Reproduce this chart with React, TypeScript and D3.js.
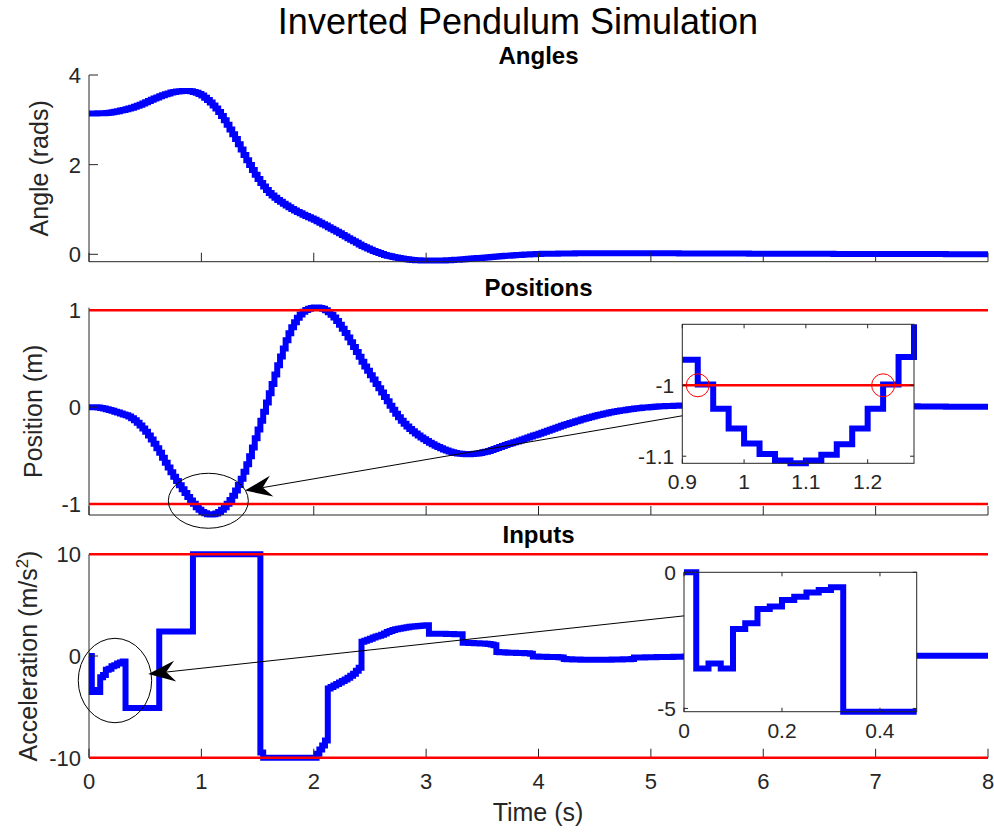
import React from "react";
import * as d3 from "d3";

// Zero-order-hold samples of the closed-loop simulation (dt = 0.025 s, 0..8 s)
const SAMPLE_PERIOD = 0.025;

// Pendulum angle (rad)
const angle = [
  3.142, 3.142, 3.143, 3.144, 3.145, 3.148, 3.153, 3.16, 3.17, 3.181, 3.193, 3.206, 3.22, 3.236, 3.252, 3.27, 3.29, 3.313, 3.338, 3.363,
  3.39, 3.418, 3.446, 3.474, 3.5, 3.524, 3.548, 3.57, 3.59, 3.607, 3.622, 3.633, 3.64, 3.644, 3.645, 3.642, 3.635, 3.622, 3.604, 3.578,
  3.54, 3.494, 3.442, 3.384, 3.32, 3.25, 3.173, 3.087, 2.99, 2.89, 2.785, 2.677, 2.57, 2.455, 2.337, 2.218, 2.1, 1.99, 1.88, 1.775,
  1.68, 1.59, 1.51, 1.437, 1.37, 1.312, 1.26, 1.213, 1.17, 1.128, 1.088, 1.048, 1.01, 0.977, 0.945, 0.914, 0.885, 0.857, 0.828, 0.799,
  0.77, 0.738, 0.706, 0.673, 0.64, 0.606, 0.572, 0.539, 0.505, 0.469, 0.433, 0.396, 0.36, 0.325, 0.29, 0.255, 0.22, 0.188, 0.157, 0.128,
  0.1, 0.074, 0.05, 0.027, 0.005, -0.014, -0.031, -0.046, -0.06, -0.073, -0.085, -0.096, -0.105, -0.113, -0.119, -0.125, -0.13, -0.134, -0.137, -0.139,
  -0.14, -0.141, -0.141, -0.141, -0.14, -0.139, -0.137, -0.134, -0.13, -0.127, -0.123, -0.119, -0.115, -0.11, -0.105, -0.1, -0.095, -0.09, -0.085, -0.08,
  -0.075, -0.07, -0.065, -0.06, -0.055, -0.05, -0.045, -0.04, -0.035, -0.031, -0.027, -0.022, -0.018, -0.014, -0.011, -0.007, -0.004, -0.001, 0.002, 0.005,
  0.008, 0.01, 0.011, 0.012, 0.013, 0.014, 0.015, 0.016, 0.017, 0.018, 0.019, 0.02, 0.02, 0.021, 0.021, 0.022, 0.022, 0.022, 0.023, 0.023,
  0.023, 0.023, 0.023, 0.023, 0.023, 0.023, 0.023, 0.023, 0.023, 0.023, 0.022, 0.022, 0.022, 0.022, 0.022, 0.022, 0.022, 0.022, 0.022, 0.022,
  0.022, 0.022, 0.022, 0.022, 0.022, 0.021, 0.021, 0.021, 0.021, 0.021, 0.02, 0.02, 0.02, 0.02, 0.02, 0.019, 0.019, 0.019, 0.019, 0.019,
  0.018, 0.018, 0.018, 0.018, 0.018, 0.017, 0.017, 0.017, 0.017, 0.017, 0.016, 0.016, 0.016, 0.016, 0.016, 0.015, 0.015, 0.015, 0.015, 0.015,
  0.014, 0.014, 0.014, 0.014, 0.014, 0.013, 0.013, 0.013, 0.013, 0.013, 0.012, 0.012, 0.012, 0.012, 0.012, 0.011, 0.011, 0.011, 0.011, 0.011,
  0.01, 0.01, 0.01, 0.01, 0.01, 0.009, 0.009, 0.009, 0.009, 0.009, 0.008, 0.008, 0.008, 0.008, 0.008, 0.007, 0.007, 0.007, 0.007, 0.007,
  0.006, 0.006, 0.006, 0.006, 0.006, 0.005, 0.005, 0.005, 0.005, 0.005, 0.005, 0.005, 0.005, 0.005, 0.005, 0.004, 0.004, 0.004, 0.004, 0.004,
  0.004, 0.004, 0.004, 0.004, 0.004, 0.003, 0.003, 0.003, 0.003, 0.003, 0.003, 0.003, 0.003, 0.003, 0.003, 0.002, 0.002, 0.002, 0.002, 0.002,
  0.002,
];

// Cart position (m)
const position = [
  0, 0, -0.001, -0.004, -0.009, -0.015, -0.022, -0.03, -0.038, -0.047, -0.056, -0.065, -0.075, -0.085, -0.097, -0.114, -0.136, -0.16, -0.189, -0.22,
  -0.254, -0.292, -0.333, -0.377, -0.424, -0.472, -0.524, -0.575, -0.624, -0.672, -0.718, -0.763, -0.806, -0.848, -0.888, -0.927, -0.964, -0.999, -1.033, -1.061,
  -1.082, -1.097, -1.106, -1.11, -1.106, -1.098, -1.083, -1.061, -1.033, -0.999, -0.96, -0.914, -0.862, -0.804, -0.739, -0.668, -0.591, -0.508, -0.418, -0.322,
  -0.232, -0.14, -0.048, 0.047, 0.143, 0.24, 0.337, 0.432, 0.522, 0.605, 0.69, 0.762, 0.825, 0.878, 0.922, 0.957, 0.984, 1.004, 1.017, 1.025,
  1.028, 1.028, 1.024, 1.015, 1.0, 0.98, 0.955, 0.925, 0.89, 0.85, 0.81, 0.765, 0.72, 0.67, 0.62, 0.57, 0.52, 0.47, 0.42, 0.375,
  0.33, 0.285, 0.24, 0.195, 0.15, 0.105, 0.06, 0.015, -0.028, -0.068, -0.105, -0.14, -0.172, -0.2, -0.226, -0.25, -0.272, -0.293, -0.313, -0.332,
  -0.35, -0.367, -0.383, -0.398, -0.412, -0.425, -0.437, -0.448, -0.458, -0.466, -0.473, -0.478, -0.482, -0.485, -0.486, -0.486, -0.485, -0.482, -0.478, -0.473,
  -0.467, -0.46, -0.452, -0.443, -0.433, -0.423, -0.412, -0.401, -0.39, -0.381, -0.372, -0.363, -0.354, -0.344, -0.334, -0.324, -0.314, -0.304, -0.294, -0.284,
  -0.275, -0.264, -0.254, -0.243, -0.233, -0.223, -0.213, -0.203, -0.193, -0.183, -0.174, -0.164, -0.155, -0.146, -0.137, -0.128, -0.12, -0.112, -0.104, -0.096,
  -0.088, -0.081, -0.075, -0.068, -0.062, -0.056, -0.051, -0.045, -0.04, -0.035, -0.031, -0.026, -0.022, -0.018, -0.015, -0.011, -0.008, -0.005, -0.003, 0,
  0.002, 0.004, 0.006, 0.008, 0.01, 0.011, 0.012, 0.013, 0.014, 0.015, 0.016, 0.017, 0.018, 0.018, 0.019, 0.019, 0.02, 0.02, 0.02, 0.02,
  0.02, 0.02, 0.02, 0.02, 0.02, 0.02, 0.02, 0.02, 0.02, 0.02, 0.019, 0.019, 0.019, 0.019, 0.019, 0.019, 0.019, 0.019, 0.019, 0.019,
  0.018, 0.018, 0.018, 0.018, 0.018, 0.017, 0.017, 0.017, 0.017, 0.017, 0.016, 0.016, 0.016, 0.016, 0.016, 0.015, 0.015, 0.015, 0.015, 0.015,
  0.014, 0.014, 0.014, 0.014, 0.014, 0.013, 0.013, 0.013, 0.013, 0.013, 0.012, 0.012, 0.012, 0.012, 0.012, 0.011, 0.011, 0.011, 0.011, 0.011,
  0.01, 0.01, 0.01, 0.01, 0.01, 0.009, 0.009, 0.009, 0.009, 0.009, 0.008, 0.008, 0.008, 0.008, 0.008, 0.007, 0.007, 0.007, 0.007, 0.007,
  0.006, 0.006, 0.006, 0.006, 0.006, 0.005, 0.005, 0.005, 0.005, 0.005, 0.004, 0.004, 0.004, 0.004, 0.004, 0.003, 0.003, 0.003, 0.003, 0.003,
  0.003,
];

// Commanded cart acceleration (m/s^2)
const input = [
  0, -3.53, -3.35, -3.53, -2.08, -1.875, -1.35, -1.26, -1.02, -0.9, -0.74, -0.65, -0.55, -5.12, -5.12, -5.12, -5.12, -5.12, -5.12, -5.12,
  -5.12, -5.12, -5.12, -5.12, -5.12, 2.4, 2.4, 2.4, 2.4, 2.4, 2.4, 2.4, 2.4, 2.4, 2.4, 2.4, 2.4, 10, 10, 10,
  10, 10, 10, 10, 10, 10, 10, 10, 10, 10, 10, 10, 10, 10, 10, 10, 10, 10, 10, 10,
  10, -9.5, -10, -10, -10, -10, -10, -10, -10, -10, -10, -10, -10, -10, -10, -10, -10, -10, -10, -10,
  -10, -9.6, -9.2, -8.8, -8.3, -3.2, -3.05, -2.9, -2.75, -2.6, -2.45, -2.3, -2.15, -1.95, -1.75, -1.45, -1.15, 1.4, 1.5, 1.6,
  1.7, 1.82, 1.92, 2.0, 2.1, 2.22, 2.35, 2.46, 2.55, 2.62, 2.68, 2.73, 2.78, 2.83, 2.87, 2.9, 2.93, 2.96, 2.98, 3.0,
  3.02, 2.2, 2.2, 2.19, 2.19, 2.18, 2.18, 2.17, 2.16, 2.16, 2.15, 2.15, 2.14, 1.3, 1.3, 1.28, 1.27, 1.26, 1.25, 1.24,
  1.22, 1.2, 1.17, 1.12, 1.05, 0.4, 0.38, 0.36, 0.34, 0.33, 0.32, 0.31, 0.3, 0.3, 0.29, 0.28, 0.27, 0.22, -0.05, -0.06,
  -0.07, -0.08, -0.08, -0.09, -0.1, -0.1, -0.11, -0.12, -0.14, -0.3, -0.32, -0.33, -0.34, -0.35, -0.35, -0.36, -0.36, -0.36, -0.37, -0.37,
  -0.37, -0.37, -0.37, -0.36, -0.36, -0.36, -0.35, -0.35, -0.34, -0.34, -0.33, -0.33, -0.32, -0.3, -0.15, -0.15, -0.14, -0.14, -0.13, -0.13,
  -0.12, -0.12, -0.11, -0.11, -0.1, -0.1, -0.09, -0.09, -0.08, -0.08, -0.07, -0.07, -0.06, -0.06, -0.05, -0.05, -0.04, -0.04, -0.03, -0.03,
  -0.02, -0.02, -0.02, -0.02, -0.02, -0.01, -0.01, -0.01, -0.01, -0.01, 0, 0, 0, 0, 0, 0.01, 0.01, 0.01, 0.01, 0.01,
  0.01, 0.01, 0.01, 0.01, 0.01, 0.02, 0.02, 0.02, 0.02, 0.02, 0.02, 0.02, 0.02, 0.02, 0.02, 0.02, 0.02, 0.02, 0.02, 0.02,
  0.03, 0.03, 0.03, 0.03, 0.03, 0.03, 0.03, 0.03, 0.03, 0.03, 0.03, 0.03, 0.03, 0.03, 0.03, 0.03, 0.03, 0.03, 0.03, 0.03,
  0.03, 0.03, 0.03, 0.03, 0.03, 0.03, 0.03, 0.03, 0.03, 0.03, 0.03, 0.03, 0.03, 0.03, 0.03, 0.03, 0.03, 0.03, 0.03, 0.03,
  0.03, 0.03, 0.03, 0.03, 0.03, 0.03, 0.03, 0.03, 0.03, 0.03, 0.03, 0.03, 0.03, 0.03, 0.03, 0.03, 0.03, 0.03, 0.03, 0.03,
  0.03,
];

const TIME_TICKS = [0, 1, 2, 3, 4, 5, 6, 7, 8];
const ANGLE_TICKS = [0, 2, 4];
const POSITION_TICKS = [-1, 0, 1];
const INPUT_TICKS = [-10, 0, 10];

// Track and actuator limits
const POSITION_LIMITS = [-1, 1];
const INPUT_LIMITS = [-10, 10];

// Zoomed views
const POS_ZOOM_SPAN = [0.9, 1.275];
const POS_ZOOM_XTICKS = [0.9, 1, 1.1, 1.2];
const POS_ZOOM_YTICKS = [-1.1, -1];
const POS_LIMIT_CROSSINGS = [0.925, 1.225];
const INPUT_ZOOM_SPAN = [0, 0.475];
const INPUT_ZOOM_XTICKS = [0, 0.2, 0.4];
const INPUT_ZOOM_YTICKS = [-5, 0];

const time = angle.map((_, i) => +(i * SAMPLE_PERIOD).toFixed(3));

const FONT = '"Liberation Sans", Arial, Helvetica, sans-serif';
const AXIS = "#262626";
const BLUE = "#0000ff";
const RED = "#ff0000";

const W = 994;
const H = 832;
const x = d3.scaleLinear().domain([0, 8]).range([89, 988]);
const TICK = 9;

type PanelSpec = {
  key: string;
  values: number[];
  y: d3.ScaleLinear<number, number>;
  ticks: number[];
  limits: number[];
  title: string;
  titleY: number;
  labelX: number;
  label: React.ReactNode;
  showTimeLabels: boolean;
};

const yAngle = d3.scaleLinear().domain([-0.165, 4]).range([261.7, 75]);
const yPos = d3.scaleLinear().domain([-1.114, 1.027]).range([515, 307.7]);
const yIn = d3.scaleLinear().domain([-10, 10]).range([757.7, 554.3]);

const stairs = (xs: (v: number) => number, ys: (v: number) => number, t: number[], v: number[]) =>
  d3
    .line<number>()
    .x((_, i) => xs(t[i]))
    .y((d) => ys(d))
    .curve(d3.curveStepAfter)(v) || "";

const fmt = (v: number) => String(+v.toFixed(3));

function Panel({ p }: { p: PanelSpec }) {
  const [y0, y1] = p.y.range();
  const [x0, x1] = x.range();
  return (
    <g>
      <text x={538.5} y={p.titleY} textAnchor="middle" fontWeight="bold" fontSize={24} fill="#000">
        {p.title}
      </text>
      <path d={stairs(x, p.y, time, p.values)} fill="none" stroke={BLUE} strokeWidth={6} strokeLinejoin="miter" />
      {/* axes */}
      <line x1={x0} x2={x0} y1={y1} y2={y0} stroke={AXIS} strokeWidth={1} />
      <line x1={x0} x2={x1} y1={y0} y2={y0} stroke={AXIS} strokeWidth={1} />
      {TIME_TICKS.map((t) => (
        <g key={t}>
          <line x1={x(t)} x2={x(t)} y1={y0} y2={y0 - TICK} stroke={AXIS} strokeWidth={1} />
          {p.showTimeLabels && (
            <text x={x(t)} y={y0 + 31.6} textAnchor="middle" fontSize={22} fill={AXIS}>
              {t}
            </text>
          )}
        </g>
      ))}
      {p.ticks.map((v) => (
        <g key={v}>
          <line x1={x0} x2={x0 + TICK} y1={p.y(v)} y2={p.y(v)} stroke={AXIS} strokeWidth={1} />
          <text x={x0 - 8} y={p.y(v) + 8} textAnchor="end" fontSize={22} fill={AXIS}>
            {fmt(v)}
          </text>
        </g>
      ))}
      {p.limits.map((v) => (
        <line key={v} x1={x0} x2={x1} y1={p.y(v)} y2={p.y(v)} stroke={RED} strokeWidth={2.6} />
      ))}
      <text
        transform={`translate(${p.labelX},${(y0 + y1) / 2}) rotate(-90)`}
        textAnchor="middle"
        fontSize={25}
        fill={AXIS}
      >
        {p.label}
      </text>
    </g>
  );
}

type InsetSpec = {
  t: number[];
  v: number[];
  xs: d3.ScaleLinear<number, number>;
  ys: d3.ScaleLinear<number, number>;
  xticks: number[];
  yticks: number[];
};

function Inset({ s, children }: { s: InsetSpec; children?: React.ReactNode }) {
  const [l, r] = s.xs.range();
  const [b, tp] = s.ys.range();
  const IT = 4;
  return (
    <g>
      <rect x={l} y={tp} width={r - l} height={b - tp} fill="#fff" />
      <path d={stairs(s.xs, s.ys, s.t, s.v)} fill="none" stroke={BLUE} strokeWidth={6} strokeLinejoin="miter" />
      {children}
      <rect x={l} y={tp} width={r - l} height={b - tp} fill="none" stroke={AXIS} strokeWidth={1} />
      {s.xticks.map((t) => (
        <g key={t}>
          <line x1={s.xs(t)} x2={s.xs(t)} y1={b} y2={b - IT} stroke={AXIS} />
          <line x1={s.xs(t)} x2={s.xs(t)} y1={tp} y2={tp + IT} stroke={AXIS} />
          <text x={s.xs(t)} y={b + 26} textAnchor="middle" fontSize={21} fill={AXIS}>
            {fmt(t)}
          </text>
        </g>
      ))}
      {s.yticks.map((v) => (
        <g key={v}>
          <line x1={l} x2={l + IT} y1={s.ys(v)} y2={s.ys(v)} stroke={AXIS} />
          <line x1={r} x2={r - IT} y1={s.ys(v)} y2={s.ys(v)} stroke={AXIS} />
          <text x={l - 8} y={s.ys(v) + 8} textAnchor="end" fontSize={21} fill={AXIS}>
            {fmt(v)}
          </text>
        </g>
      ))}
    </g>
  );
}

function subset(span: number[], values: number[]) {
  const i0 = Math.round(span[0] / SAMPLE_PERIOD);
  const i1 = Math.round(span[1] / SAMPLE_PERIOD);
  return { t: time.slice(i0, i1 + 1), v: values.slice(i0, i1 + 1) };
}

function Arrow({ from, tip }: { from: [number, number]; tip: [number, number] }) {
  const a = Math.atan2(from[1] - tip[1], from[0] - tip[0]);
  const c = Math.cos(a);
  const sn = Math.sin(a);
  const L = 27;
  const hw = 10.5;
  const notch = 18;
  const pt = (u: number, v: number) => [tip[0] + u * c - v * sn, tip[1] + u * sn + v * c];
  const p1 = pt(L, -hw);
  const p2 = pt(notch, 0);
  const p3 = pt(L, hw);
  return (
    <g>
      <line x1={from[0]} y1={from[1]} x2={p2[0]} y2={p2[1]} stroke="#000" strokeWidth={1} />
      <path d={`M${tip[0]},${tip[1]}L${p1[0]},${p1[1]}L${p2[0]},${p2[1]}L${p3[0]},${p3[1]}Z`} fill="#000" />
    </g>
  );
}

export default function App() {
  const panels: PanelSpec[] = [
    {
      key: "angle",
      values: angle,
      y: yAngle,
      ticks: ANGLE_TICKS,
      limits: [],
      title: "Angles",
      titleY: 64,
      labelX: 48,
      label: "Angle (rads)",
      showTimeLabels: false,
    },
    {
      key: "position",
      values: position,
      y: yPos,
      ticks: POSITION_TICKS,
      limits: POSITION_LIMITS,
      title: "Positions",
      titleY: 296,
      labelX: 42,
      label: "Position (m)",
      showTimeLabels: false,
    },
    {
      key: "input",
      values: input,
      y: yIn,
      ticks: INPUT_TICKS,
      limits: INPUT_LIMITS,
      title: "Inputs",
      titleY: 542.5,
      labelX: 37,
      label: (
        <>
          Acceleration (m/s
          <tspan dy={-9} fontSize={17}>
            2
          </tspan>
          <tspan dy={9}>)</tspan>
        </>
      ),
      showTimeLabels: true,
    },
  ];

  const posZoom = subset(POS_ZOOM_SPAN, position);
  const posInset: InsetSpec = {
    ...posZoom,
    xs: d3.scaleLinear().domain(POS_ZOOM_SPAN).range([682.3, 914]),
    ys: d3
      .scaleLinear()
      .domain(d3.extent(posZoom.v) as [number, number])
      .range([463.3, 324.3]),
    xticks: POS_ZOOM_XTICKS,
    yticks: POS_ZOOM_YTICKS,
  };

  const inZoom = subset(INPUT_ZOOM_SPAN, input);
  const inInset: InsetSpec = {
    ...inZoom,
    xs: d3.scaleLinear().domain(INPUT_ZOOM_SPAN).range([684, 916.7]),
    ys: d3
      .scaleLinear()
      .domain(d3.extent(inZoom.v) as [number, number])
      .range([711.7, 572.3]),
    xticks: INPUT_ZOOM_XTICKS,
    yticks: INPUT_ZOOM_YTICKS,
  };

  const lowerLimit = POSITION_LIMITS[0];

  return (
    <svg
      width={W}
      height={H}
      viewBox={`0 0 ${W} ${H}`}
      style={{ position: "absolute", left: 0, top: 0, background: "#fff" }}
      fontFamily={FONT}
    >
      <rect width={W} height={H} fill="#fff" />
      <text x={518} y={33.5} textAnchor="middle" fontSize={36} fill="#000">
        Inverted Pendulum Simulation
      </text>
      {panels.map((p) => (
        <Panel key={p.key} p={p} />
      ))}

      <Inset s={posInset}>
        <line
          x1={posInset.xs.range()[0]}
          x2={posInset.xs.range()[1]}
          y1={posInset.ys(lowerLimit)}
          y2={posInset.ys(lowerLimit)}
          stroke={RED}
          strokeWidth={2.6}
        />
        {POS_LIMIT_CROSSINGS.map((t) => (
          <circle key={t} cx={posInset.xs(t)} cy={posInset.ys(lowerLimit)} r={11.5} fill="none" stroke={RED} strokeWidth={1} />
        ))}
      </Inset>
      <Inset s={inInset} />

      {/* callouts linking each zoomed view to its region */}
      <ellipse cx={x(1.062)} cy={yPos(-0.967)} rx={40} ry={27.5} fill="none" stroke="#000" strokeWidth={1} />
      <Arrow from={[posInset.xs(0.9), posInset.ys(-1.043)]} tip={[x(1.388), yPos(-0.862)]} />
      <ellipse cx={x(0.231)} cy={yIn(-2.41)} rx={36.7} ry={42.2} fill="none" stroke="#000" strokeWidth={1} />
      <Arrow from={[inInset.xs(0), inInset.ys(-1.6)]} tip={[x(0.528), yIn(-1.77)]} />

      <text x={538} y={821} textAnchor="middle" fontSize={25} fill={AXIS}>
        Time (s)
      </text>
    </svg>
  );
}
